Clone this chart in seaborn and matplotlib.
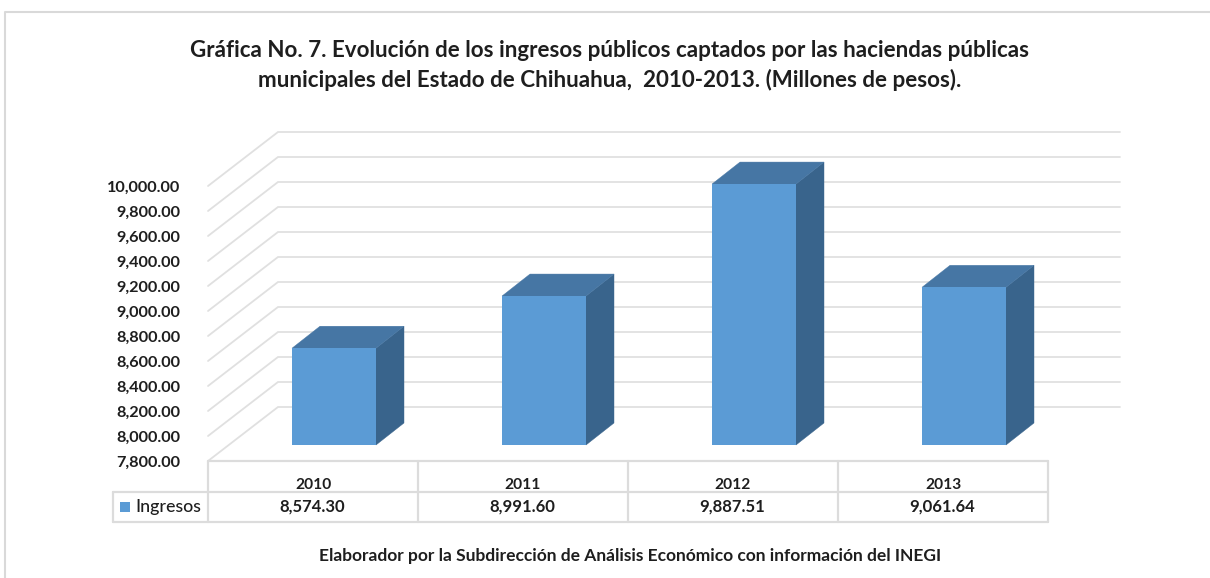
import matplotlib
matplotlib.use("Agg")
import matplotlib.pyplot as plt
from matplotlib.lines import Line2D
from matplotlib.patches import Polygon, Rectangle
from matplotlib.transforms import Affine2D
import seaborn as sns
import pandas as pd

years = ["2010", "2011", "2012", "2013"]
ingresos = [8574.30, 8991.60, 9887.51, 9061.64]
y_ticks = [7800, 8000, 8200, 8400, 8600, 8800, 9000, 9200, 9400, 9600, 9800, 10000]
series_name = "Ingresos"
title = ("Gráfica No. 7. Evolución de los ingresos públicos captados por las haciendas públicas\n"
         "municipales del Estado de Chihuahua,  2010-2013. (Millones de pesos).")
footer = "Elaborador por la Subdirección de Análisis Económico con información del INEGI"

W, H = 1210, 578
FRONT, SIDE, TOP = "#5b9bd5", "#39648c", "#4676a4"
GRID, TABLE, INK = "#e0e0e0", "#dcdcdc", "#1e1e1e"

sns.set_theme(style="white")
plt.rcParams["font.family"] = ["Lato", "DejaVu Sans"]

fig = plt.figure(figsize=(W / 100, H / 100), dpi=100, facecolor="white")
ax = fig.add_axes([229 / W, 1 - 445 / H, 840 / W, 275 / H])
df = pd.DataFrame({"year": years, "ingresos": ingresos})
sns.barplot(data=df, x="year", y="ingresos", color=FRONT, saturation=1, width=0.4,
            ax=ax, zorder=3, linewidth=0, edgecolor=FRONT)
ax.set_xlim(-0.5, 3.5)
ax.set_ylim(y_ticks[0], y_ticks[-1])
ax.patch.set_visible(False)
sns.despine(ax=ax, left=True, bottom=True)
ax.set_xlabel("")
ax.set_ylabel("")


def shifted(dx, dy):
    return ax.transData + Affine2D().translate(dx, dy)


# 3D sides of every bar, derived from the bar rectangles
px_x = 840 / 4
px_y = 275 / (y_ticks[-1] - y_ticks[0])
depth_x, depth_y = 28 / px_x, 22 / px_y
for bar in ax.patches[:len(years)]:
    x0, w, top = bar.get_x(), bar.get_width(), bar.get_y() + bar.get_height()
    x1, base = x0 + w, y_ticks[0]
    ax.add_patch(Polygon([(x1, base), (x1 + depth_x, base + depth_y), (x1 + depth_x, top + depth_y), (x1, top)],
                         facecolor=SIDE, edgecolor=SIDE, lw=0.3, zorder=2.9, clip_on=False))
    ax.add_patch(Polygon([(x0, top), (x0 + depth_x, top + depth_y), (x1 + depth_x, top + depth_y), (x1, top)],
                         facecolor=TOP, edgecolor=TOP, lw=0.3, zorder=2.9, clip_on=False))

# Gridlines on the left wall and back wall
ox, oy = -21, -16
for t in y_ticks:
    a = shifted(ox, oy).transform((-0.5, t))
    b = shifted(49, 38).transform((-0.5, t))
    c = shifted(51, 38).transform((3.5, t))
    fig.add_artist(Line2D([a[0] / W, b[0] / W, c[0] / W], [a[1] / H, b[1] / H, c[1] / H],
                          color=GRID, lw=1.3, zorder=0, solid_joinstyle="miter"))

# Axis tick labels
ax.set_yticks(y_ticks)
ax.set_yticklabels([f"{t:,.2f}" for t in y_ticks], fontsize=11.7, fontweight="bold", color=INK)
ax.tick_params(axis="y", length=0, pad=35)
for lab in ax.get_yticklabels():
    lab.set_transform(lab.get_transform() + Affine2D().translate(0, -16.5))
ax.tick_params(axis="x", length=0, pad=23.5)
ax.set_xticks(range(len(years)))
ax.set_xticklabels(years, fontsize=11.2, fontweight="bold", color=INK)
for lab in ax.get_xticklabels():
    lab.set_transform(lab.get_transform() + Affine2D().translate(-21, 0))

# Data table


def hline(x0, x1, y):
    fig.add_artist(Line2D([x0 / W, x1 / W], [1 - y / H, 1 - y / H], color=TABLE, lw=1.6))


def vline(x, y0, y1):
    fig.add_artist(Line2D([x / W, x / W], [1 - y0 / H, 1 - y1 / H], color=TABLE, lw=1.6))


left, cell = 208, 840 / len(years)
right = left + cell * len(years)
hline(left, right, 461)
hline(113, right, 491.5)
hline(113, right, 522)
vline(113, 491.5, 522)
for i in range(len(years) + 1):
    vline(left + i * cell, 461, 522)
for i, v in enumerate(ingresos):
    fig.text((left + (i + 0.5) * cell - 1) / W, 1 - 507 / H, f"{v:,.2f}", ha="center", va="center",
             fontsize=12, fontweight="bold", color=INK)
fig.add_artist(Rectangle((120 / W, 1 - 512 / H), 10 / W, 10 / H, transform=fig.transFigure,
                         facecolor=FRONT, edgecolor="none"))
fig.text(135 / W, 1 - 507 / H, series_name, ha="left", va="center", fontsize=12.8,
         fontweight="medium", color=INK)

# Title, footer, outer frame
fig.text(610 / W, 1 - 65.5 / H, title, ha="center", va="center", fontsize=16.1, fontweight="bold",
         color=INK, linespacing=1.42)
fig.text(630.5 / W, 1 - 556 / H, footer, ha="center", va="center", fontsize=12.5, fontweight="bold",
         color=INK)
fig.add_artist(Line2D([5 / W, 5 / W, 1], [0, 1 - 12 / H, 1 - 12 / H], color="#d9d9d9", lw=1.5))

fig.savefig("out.png", dpi=100, facecolor="white")
